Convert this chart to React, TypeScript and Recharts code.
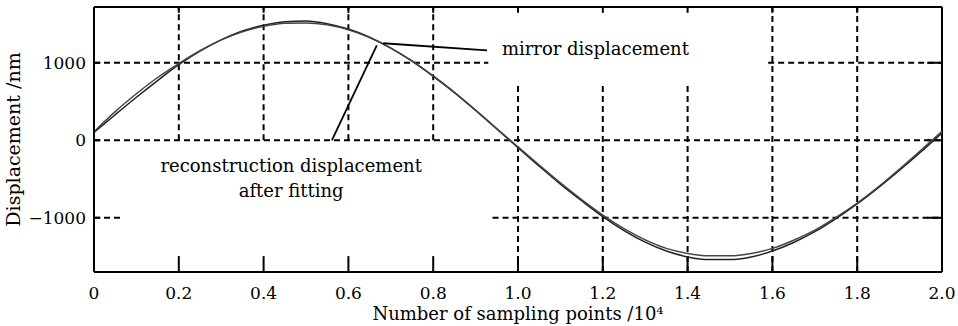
import { LineChart, Line, XAxis, YAxis, ReferenceLine, ReferenceDot } from 'recharts';

// sampling points (x 10^4)
const samplePoints = [
  0, 0.05, 0.1, 0.15, 0.2, 0.25, 0.3, 0.35, 0.4, 0.45,
  0.5, 0.55, 0.6, 0.65, 0.7, 0.75, 0.8, 0.85, 0.9, 0.95,
  1.0, 1.05, 1.1, 1.15, 1.2, 1.25, 1.3, 1.35, 1.4, 1.45,
  1.5, 1.55, 1.6, 1.65, 1.7, 1.75, 1.8, 1.85, 1.9, 1.95, 2.0,
];

// mirror displacement (nm)
const mirrorDisplacement = [
  100, 330, 555, 770, 975, 1150, 1295, 1410, 1485, 1530,
  1540, 1505, 1435, 1330, 1190, 1020, 825, 615, 385, 145,
  -95, -335, -565, -780, -985, -1165, -1315, -1430, -1505, -1540,
  -1540, -1505, -1430, -1320, -1180, -1010, -820, -610, -385, -150, 95,
];

// reconstruction displacement after fitting (nm)
const reconDisplacement = [
  110, 370, 600, 810, 990, 1155, 1295, 1400, 1470, 1510,
  1515, 1490, 1425, 1325, 1190, 1025, 830, 620, 390, 150,
  -85, -320, -550, -765, -965, -1140, -1285, -1395, -1460, -1490,
  -1490, -1460, -1395, -1290, -1160, -995, -810, -600, -370, -130, 115,
];

const xTicks = [0, 0.2, 0.4, 0.6, 0.8, 1.0, 1.2, 1.4, 1.6, 1.8, 2.0];
const yTicks = [-1000, 0, 1000];

const data = samplePoints.map((x, i) => ({
  x,
  mirror: mirrorDisplacement[i],
  recon: reconDisplacement[i],
}));

const Y_MIN = -1700;
const Y_MAX = 1720;
const FONT = '"DejaVu Serif", serif';
const dash = { stroke: '#000', strokeWidth: 2, strokeDasharray: '6 4' };
const solid = { stroke: '#000', strokeWidth: 2 };

// dashed grid pieces (the figure leaves gaps around the annotations)
const hGrid: [number, number, number][] = [
  [1000, 0, 0.93],
  [1000, 1.59, 2.0],
  [0, 0, 2.0],
  [-1000, 0, 0.07],
  [-1000, 0.94, 2.0],
];
const vGrid: [number, number, number][] = [
  [0.2, 0, Y_MAX],
  [0.4, 0, Y_MAX],
  [0.6, 0, Y_MAX],
  [0.8, 0, Y_MAX],
  [1.0, Y_MIN, 720],
  [1.2, Y_MIN, 720],
  [1.4, Y_MIN, 720],
  [1.6, Y_MIN, Y_MAX],
  [1.8, Y_MIN, Y_MAX],
];

const xTickFmt = (v: number) => (v === 0 ? '0' : v.toFixed(1));
const yTickFmt = (v: number) => (v < 0 ? '\u2212' + Math.abs(v) : String(v));

export default function App() {
  return (
    <div style={{ position: 'absolute', left: 0, top: 0, width: 958, height: 326, background: '#fff' }}>
      <LineChart width={958} height={326} data={data} margin={{ top: 7, right: 16, left: 0, bottom: 0 }}>
        <XAxis
          dataKey="x"
          type="number"
          domain={[0, 2]}
          ticks={xTicks}
          tickFormatter={xTickFmt}
          tickLine={false}
          tickMargin={9}
          height={54}
          axisLine={solid}
          tick={{ fill: '#000', fontSize: 17, fontFamily: FONT }}
          label={{
            content: ({ viewBox }: any) => (
              <text
                x={viewBox.x + viewBox.width / 2}
                y={viewBox.y + 48}
                textAnchor="middle"
                fontSize={18}
                fontFamily={FONT}
                fill="#000"
              >
                Number of sampling points /10⁴
              </text>
            ),
          }}
        />
        <YAxis
          type="number"
          domain={[Y_MIN, Y_MAX]}
          allowDataOverflow
          ticks={yTicks}
          tickFormatter={yTickFmt}
          tickLine={false}
          width={94}
          axisLine={solid}
          tick={{ fill: '#000', fontSize: 17, fontFamily: FONT }}
          label={{
            content: ({ viewBox }: any) => {
              const cy = viewBox.y + viewBox.height / 2;
              return (
                <text
                  x={20}
                  y={cy}
                  transform={`rotate(-90, 20, ${cy})`}
                  textAnchor="middle"
                  fontSize={19}
                  fontFamily={FONT}
                  fill="#000"
                >
                  Displacement /nm
                </text>
              );
            },
          }}
        />

        {hGrid.map(([y, x1, x2], i) => (
          <ReferenceLine key={'h' + i} segment={[{ x: x1, y }, { x: x2, y }]} {...dash} />
        ))}
        {vGrid.map(([x, y1, y2], i) => (
          <ReferenceLine key={'v' + i} segment={[{ x, y: y1 }, { x, y: y2 }]} {...dash} />
        ))}

        {/* inward tick marks */}
        {xTicks.slice(1, -1).map((x) => (
          <ReferenceLine key={'bt' + x} segment={[{ x, y: Y_MIN }, { x, y: Y_MIN + 205 }]} {...solid} />
        ))}
        {xTicks.slice(1, -1).map((x) => (
          <ReferenceLine key={'tt' + x} segment={[{ x, y: Y_MAX }, { x, y: Y_MAX - 75 }]} {...solid} />
        ))}
        {yTicks.map((y) => (
          <ReferenceLine key={'rt' + y} segment={[{ x: 1.965, y }, { x: 2, y }]} {...solid} />
        ))}
        {yTicks.map((y) => (
          <ReferenceLine key={'lt' + y} segment={[{ x: 0, y }, { x: 0.015, y }]} {...solid} />
        ))}

        {/* frame top and right */}
        <ReferenceLine y={Y_MAX} {...solid} />
        <ReferenceLine x={2} {...solid} />

        <Line dataKey="mirror" type="monotone" stroke="#222" strokeWidth={1.5} dot={false} isAnimationActive={false} />
        <Line dataKey="recon" type="monotone" stroke="#444" strokeWidth={1.5} dot={false} isAnimationActive={false} />

        {/* annotation leaders */}
        <ReferenceLine segment={[{ x: 0.682, y: 1252 }, { x: 0.927, y: 1161 }]} stroke="#000" strokeWidth={1.8} />
        <ReferenceLine segment={[{ x: 0.561, y: 0 }, { x: 0.667, y: 1226 }]} stroke="#000" strokeWidth={1.8} />

        <ReferenceDot
          x={0.962}
          y={1187}
          r={0}
          fill="none"
          stroke="none"
          label={{ value: 'mirror displacement', position: 'right', offset: 0, fontSize: 18, fontFamily: FONT, fill: '#000' }}
        />
        <ReferenceDot
          x={0.465}
          y={-323}
          r={0}
          fill="none"
          stroke="none"
          label={{ value: 'reconstruction displacement', position: 'center', fontSize: 18, fontFamily: FONT, fill: '#000' }}
        />
        <ReferenceDot
          x={0.465}
          y={-645}
          r={0}
          fill="none"
          stroke="none"
          label={{ value: 'after fitting', position: 'center', fontSize: 18, fontFamily: FONT, fill: '#000' }}
        />
      </LineChart>
    </div>
  );
}
